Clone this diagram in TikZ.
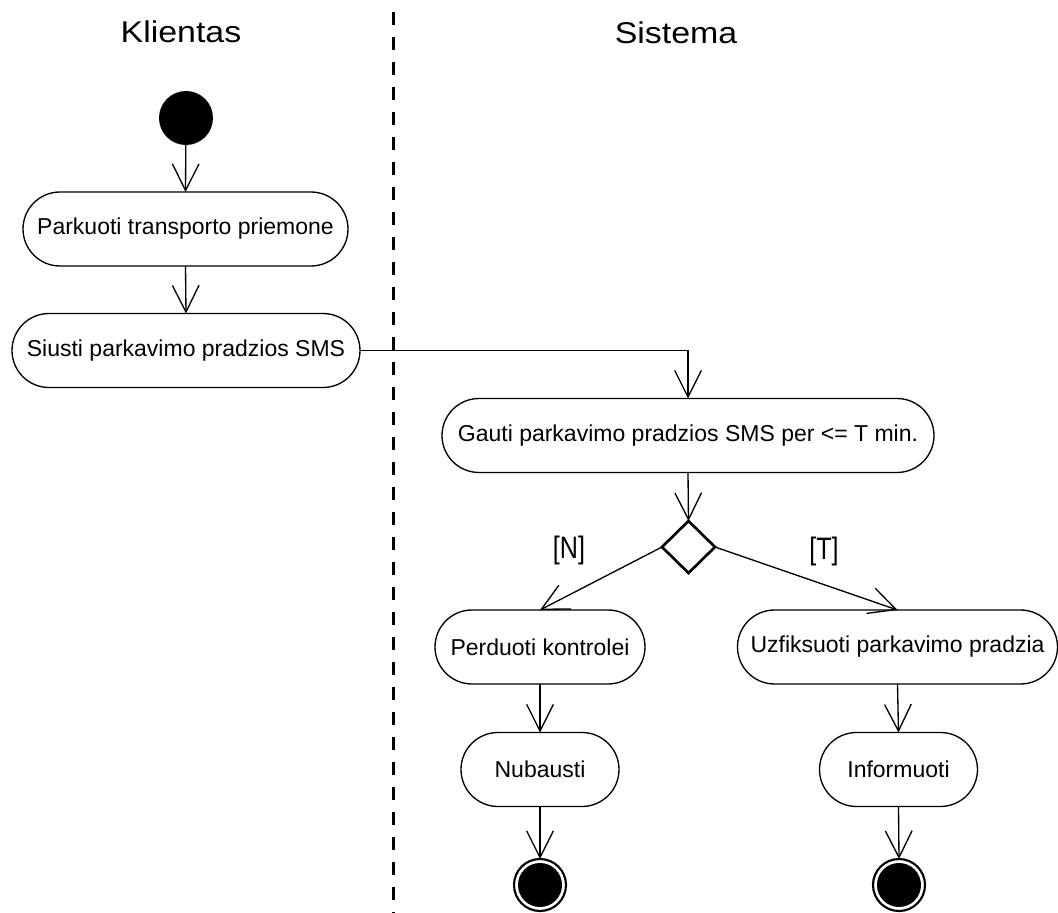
\documentclass[tikz,border=0pt]{standalone}
\usepackage{fontspec}
\setmainfont{Liberation Sans}
\newfontfamily\widesans[FakeStretch=1.13]{Liberation Sans}
\newfontfamily\narrowsans[FakeStretch=0.81]{Liberation Sans}
\usetikzlibrary{arrows.meta,shapes.geometric}

\begin{document}
\begin{tikzpicture}[x=0.75pt, y=-0.75pt,
  every node/.style={inner sep=0pt, outer sep=0pt},
  lane/.style={font=\widesans\fontsize{22.5}{27}\selectfont},
  act/.style={draw, line width=1pt, rectangle, rounded corners=27.75pt,
              minimum height=55.5pt, fill=white,
              font=\fontsize{17.25}{20}\selectfont},
  guard/.style={font=\narrowsans\fontsize{23.25}{28}\selectfont},
  flow/.style={line width=1pt, -{Straight Barb[length=20pt, width=20pt]}},
  startnode/.style={circle, fill=black, minimum size=40.5pt},
  endnode/.style={circle, draw, line width=1.6pt, fill=white, minimum size=39pt},
  choice/.style={diamond, draw, line width=2pt, fill=white,
                 minimum width=39.75pt, minimum height=39pt},
  swimline/.style={line width=2.25pt, dash pattern=on 9.75pt off 9pt}]

\useasboundingbox (0,0) rectangle (1058,913);

% swimlane headers and separator
\node[lane, anchor=base] (hk) at (181,43) {Klientas};
\node[lane, anchor=base] (hs) at (676,44) {Sistema};
\coordinate (sepTop) at (393,12);
\coordinate (sepBot) at (393,913);
\draw[swimline] (sepTop) -- (sepBot);

% client lane
\node[startnode] (init) at (186,118) {};
\node[act, minimum width=243.75pt] (park) at (185.5,229) {Parkuoti transporto priemone};
\node[act, minimum width=261pt] (send) at (186,350.5) {Siusti parkavimo pradzios SMS};

% system lane
\node[act, minimum width=369pt] (recv) at (688,435.5) {Gauti parkavimo pradzios SMS per <= T min.};
\node[choice] (dec) at (688.5,547) {};
\node[act, minimum width=157.5pt] (pass) at (540,647) {Perduoti kontrolei};
\node[act, minimum width=240pt] (fix) at (897.5,647) {Uzfiksuoti parkavimo pradzia};
\node[act, minimum width=118.5pt] (fine) at (540,769.5) {Nubausti};
\node[act, minimum width=118.5pt] (info) at (898.5,769.5) {Informuoti};
\node[endnode] (endA) at (540,885) {};
\node[endnode] (endB) at (899,885) {};
\fill (endA.center) circle (16.5pt);
\fill (endB.center) circle (16.5pt);

% guards
\node[guard] (gn) at (569,550.5) {[N]};
\node[guard] (gt) at (824,551) {[T]};

% control flow
\draw[flow] (init) -- (park.north);
\draw[flow] (park.south) -- (send.north);
\draw[flow] (send.east) -| (recv.north);
\draw[flow] (recv.south) -- (dec.north);
\draw[flow] (dec.west) -- (pass.north);
\draw[flow] (dec.east) -- (fix.north);
\draw[flow] (pass.south) -- (fine.north);
\draw[flow] (fix.south) -- (info.north);
\draw[flow] (fine.south) -- (endA.north);
\draw[flow] (info.south) -- (endB.north);

\end{tikzpicture}
\end{document}
